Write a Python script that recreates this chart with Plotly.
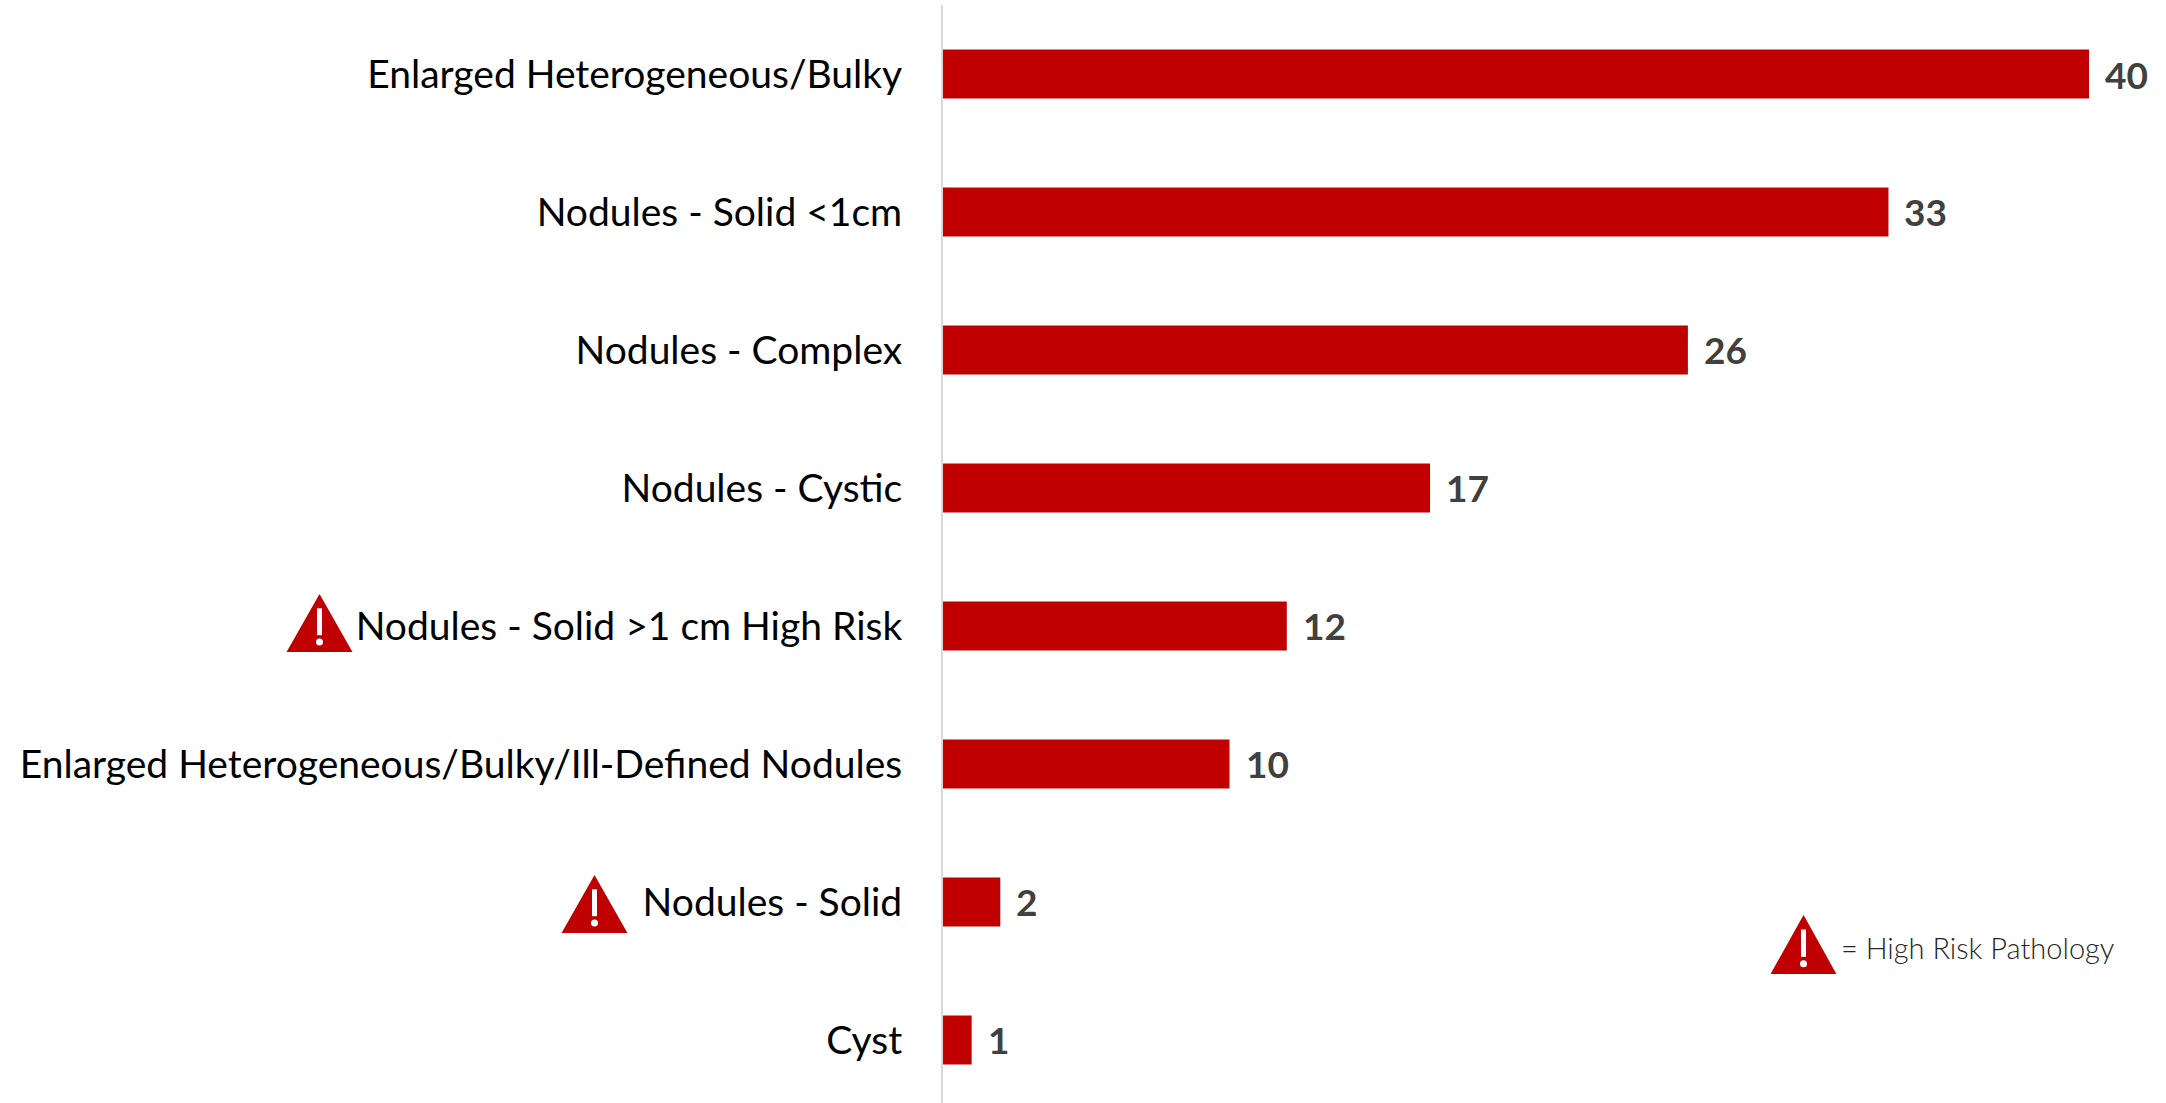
import plotly.graph_objects as go

W, H = 2166, 1103
LEFT, TOP = 943, 5
RED = "#C00000"

categories = [
    "Enlarged Heterogeneous/Bulky",
    "Nodules - Solid <1cm",
    "Nodules - Complex",
    "Nodules - Cystic",
    "Nodules - Solid >1 cm High Risk",
    "Enlarged Heterogeneous/Bulky/Ill-Defined Nodules",
    "Nodules - Solid",
    "Cyst",
]
values = [40, 33, 26, 17, 12, 10, 2, 1]
legend_text = "= High Risk Pathology"

fig = go.Figure(go.Bar(
    x=values, y=list(range(len(values))), orientation="h",
    marker=dict(color=RED, line=dict(width=0)), width=0.355,
    hoverinfo="skip",
))

for i, v in enumerate(values):
    fig.add_annotation(x=v, y=i, text=f"<b>{v}</b>", showarrow=False, xanchor="left",
                       xshift=14, yshift=0,
                       font=dict(family="Lato", size=37, color="#404040"))

px = lambda x: (x - LEFT) / (W - LEFT)
py = lambda y: 1 - (y - TOP) / (H - TOP)


def warning(x0, x1, y0, y1):
    cx = (x0 + x1) / 2
    h = y1 - y0
    tri = (f"M {px(cx)} {py(y0 + 2)} L {px(x1 - 3)} {py(y1 - 2)} "
           f"L {px(x0 + 3)} {py(y1 - 2)} Z")
    fig.add_shape(type="path", xref="paper", yref="paper", path=tri, fillcolor=RED,
                  line=dict(color=RED, width=4), layer="above")
    fig.add_shape(type="rect", xref="paper", yref="paper", x0=px(cx - 2.5), x1=px(cx + 2.5),
                  y0=py(y0 + 0.22 * h), y1=py(y0 + 0.70 * h), fillcolor="white",
                  line=dict(width=0), layer="above")
    fig.add_shape(type="circle", xref="paper", yref="paper", x0=px(cx - 3.5), x1=px(cx + 3.5),
                  y0=py(y0 + 0.76 * h), y1=py(y0 + 0.76 * h + 7), fillcolor="white",
                  line=dict(width=0), layer="above")


warning(287, 352, 596, 652)
warning(562, 627, 877, 933)
warning(1771, 1836, 917, 974)

fig.add_annotation(xref="paper", yref="paper", x=px(1839), y=py(947), xanchor="left", yanchor="middle",
                   text=legend_text, showarrow=False,
                   font=dict(family="Lato Light, Lato", size=29, color="#262626"))

fig.update_layout(
    width=W, height=H, autosize=False,
    margin=dict(l=LEFT, r=0, t=TOP, b=0, pad=0),
    paper_bgcolor="white", plot_bgcolor="white", showlegend=False,
    xaxis=dict(range=[0, (W - LEFT) / 28.65], visible=False, fixedrange=True),
    yaxis=dict(
        range=[7.457, -0.5], tickmode="array", tickvals=list(range(len(categories))),
        ticktext=categories, showgrid=False, zeroline=False, showline=True,
        linecolor="#D9D9D9", linewidth=2, ticks="outside", ticklen=31,
        tickcolor="rgba(0,0,0,0)", tickfont=dict(family="Lato", size=39, color="#000000"),
        fixedrange=True, automargin=False,
    ),
)

fig.write_html("out.html", config={"displayModeBar": False},
               post_script="document.body.style.margin='0';document.body.style.overflow='hidden';")
